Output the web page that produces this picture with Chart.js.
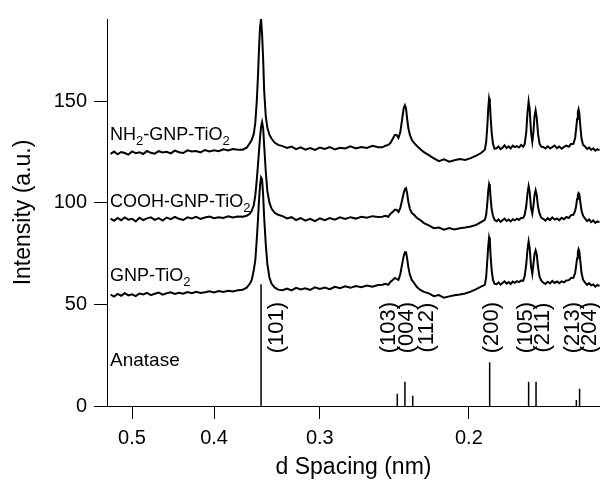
<!DOCTYPE html>
<html><head><meta charset="utf-8">
<script src="https://cdn.jsdelivr.net/npm/chart.js@4/dist/chart.umd.min.js"></script>
<style>html,body{margin:0;padding:0;background:#fff;}#wrap{width:600px;height:480px;}</style>
</head><body><div id="wrap"><canvas id="c" width="600" height="480"></canvas></div>
<script>
// d spacing (nm) of the sampled points
const dSpacing = [0.530,0.525,0.520,0.515,0.510,0.505,0.500,0.495,0.490,0.485,0.480,0.475,0.470,0.465,0.460,0.455,0.450,0.445,0.440,0.435,0.430,0.425,0.420,0.415,0.410,0.405,0.400,0.395,0.390,0.385,0.380,0.375,
0.370,0.366,0.363,0.361,0.359,0.3575,0.356,0.355,0.354,0.353,0.352,0.351,0.350,0.349,0.3475,0.346,0.344,0.342,0.339,0.336,
0.332,0.328,0.324,0.320,0.316,0.312,0.308,0.304,0.300,0.296,0.292,0.288,0.284,0.280,0.276,0.272,0.268,0.264,0.260,0.256,
0.253,0.251,0.249,0.2475,0.246,0.2447,0.2435,0.2422,0.241,0.2398,0.2388,0.2380,0.2373,0.2366,0.2358,0.2348,0.2336,0.2322,0.2305,0.2285,
0.226,0.223,0.220,0.217,0.214,0.211,0.208,0.205,0.202,0.199,0.196,0.1935,
0.1915,0.1908,0.1902,0.1897,0.1893,0.1889,0.1885,0.1880,0.1873,0.1865,
0.1855,0.1845,0.1835,0.1825,0.1815,0.1805,0.1795,0.1785,0.1775,0.1765,0.1755,0.1745,0.1735,
0.1725,0.1718,0.1711,0.1705,0.1700,0.1695,0.1689,0.1683,0.1678,0.1673,0.1668,0.1663,0.1657,0.1650,0.1642,
0.1634,0.1624,0.1614,0.1604,0.1594,0.1584,0.1574,0.1564,0.1554,0.1544,0.1534,0.1524,0.1515,
0.1505,0.1498,0.1494,0.1490,0.1487,0.1484,0.1481,0.1477,0.1472,0.1466,
0.1458,0.1450,0.1442,0.1434,0.1426,0.1418,0.1410,0.1402];

const nh2GnpTiO2 = [124.2,125.3,124.0,125.1,124.6,123.8,125.4,124.5,125.0,124.1,125.6,124.7,124.3,125.5,124.9,125.2,124.4,125.8,125.0,124.6,125.9,125.3,125.6,124.9,126.1,125.4,126.0,125.5,126.4,125.9,126.6,126.2,
126.2,127.2,129.4,131.1,134.0,139.8,151.0,162.0,175.2,186.4,190.8,183.0,171.0,155.0,142.7,137.0,133.5,131.6,129.6,128.6,
128.0,127.1,127.8,126.5,127.4,126.2,127.0,126.1,127.3,126.6,127.5,126.4,127.2,126.8,127.9,126.9,127.6,127.1,128.1,127.4,
127.4,128.2,128.6,129.6,131.6,133.5,133.5,132.0,134.9,141.3,146.6,148.1,146.6,141.7,136.9,133.5,131.1,129.6,128.2,126.7,
125.0,123.6,122.0,120.6,121.5,120.3,121.0,121.6,121.2,122.1,123.3,124.6,
126.2,130.1,137.9,147.1,151.5,149.5,142.2,134.9,129.1,126.7,
126.9,127.8,126.5,127.2,128.4,127.0,127.9,126.8,128.2,127.5,128.0,127.3,128.6,
127.7,129.1,134.9,144.7,150.0,146.1,134.9,130.1,134.9,142.7,145.6,142.2,134.0,129.1,127.7,
127.6,126.8,127.9,126.9,127.5,128.3,127.0,127.8,126.7,127.6,128.2,127.7,129.0,
129.1,132.0,136.4,141.3,144.7,146.1,144.2,137.9,131.6,128.6,
127.8,126.6,127.3,126.1,126.9,125.8,126.5,125.9];

const coohGnpTiO2 = [92.3,91.2,92.6,91.5,92.9,91.8,92.2,90.9,92.7,91.6,92.4,92.9,91.7,92.5,91.3,92.8,92.0,93.1,92.2,91.6,92.9,92.4,93.2,92.1,92.8,93.3,92.5,93.0,92.6,93.4,92.9,93.3,
93.2,93.7,94.7,96.1,99.0,103.9,112.1,118.4,125.2,132.0,137.4,139.8,136.9,128.2,115.5,105.8,100.0,97.1,95.1,94.2,
93.5,92.4,93.0,91.6,92.5,91.3,92.2,91.0,92.4,91.5,92.6,91.8,92.9,92.1,93.0,92.3,93.2,92.7,93.5,93.1,
93.2,93.7,93.2,94.7,95.6,96.6,96.6,95.6,97.6,101.5,104.9,106.8,107.3,104.9,100.5,97.1,95.1,94.2,92.7,91.7,
90.1,89.0,87.6,87.9,86.8,87.6,86.9,87.5,87.9,88.4,89.2,90.6,
91.7,94.2,100.0,106.3,109.2,107.8,102.4,97.1,93.7,91.7,
91.0,91.9,90.7,91.5,92.3,91.1,91.8,90.9,92.0,91.4,92.2,91.7,92.6,
92.7,94.2,98.5,104.9,108.3,105.3,97.6,94.7,98.5,103.9,106.3,103.9,98.1,94.7,92.7,
92.2,91.3,92.5,91.6,92.9,91.8,92.4,91.5,92.7,92.0,93.1,92.6,94.0,
94.2,96.1,98.5,101.9,103.9,104.9,104.4,100.5,96.1,93.7,
92.3,91.1,91.9,90.6,91.4,90.2,90.9,90.4];

const gnpTiO2 = [54.8,53.9,55.2,54.3,55.6,54.5,55.0,54.1,55.4,54.9,55.7,54.6,55.3,55.9,54.8,55.5,56.0,55.2,55.8,55.3,56.1,55.6,56.3,55.7,56.0,56.5,55.9,56.6,56.2,56.8,56.4,57.0,
57.3,58.3,60.2,62.1,67.0,71.8,83.0,91.3,101.0,108.3,112.6,111.7,103.9,92.7,79.6,69.9,63.1,60.2,58.3,57.3,
57.0,57.8,56.9,58.2,57.4,58.0,57.2,58.4,57.6,58.3,57.5,58.7,58.0,58.9,58.2,59.1,58.5,59.3,58.8,59.6,
59.7,60.2,59.7,61.2,62.1,63.1,62.6,62.1,65.0,69.9,73.8,75.7,75.7,72.8,68.4,64.6,62.1,60.7,58.7,57.3,
56.2,55.5,54.1,54.6,53.3,54.0,54.5,54.9,55.4,56.3,57.6,58.8,
59.7,63.6,71.8,79.1,83.0,81.1,73.8,67.0,62.1,60.2,
60.0,60.9,59.8,60.6,61.4,60.3,61.0,60.1,61.3,60.7,61.5,61.0,61.8,
61.7,64.1,69.9,77.2,81.1,77.7,68.9,65.0,69.9,74.8,76.7,74.8,68.4,63.6,61.7,
60.8,60.1,61.2,60.4,61.6,60.6,61.3,60.5,61.4,60.9,61.8,62.0,63.0,
63.1,65.5,68.9,72.8,75.7,77.2,76.2,71.4,65.5,62.1,
60.8,59.7,60.5,59.4,59.9,58.8,59.6,59.1];

// Anatase reference pattern
const anataseD = [0.352, 0.243, 0.238, 0.233, 0.189, 0.170, 0.1666, 0.1493, 0.1480];
const anataseI = [60, 6, 12, 5, 21.5, 12, 12, 3, 8.5];
const millerLabels = ['(101)','(103)','(004)','(112)','(200)','(105)','(211)','(213)','(204)'];
const millerLabelD = [0.3368, 0.2486, 0.2367, 0.2242, 0.1878, 0.1712, 0.1635, 0.1507, 0.1439];
const millerLabelY = 38.6;

const xTicks = [0.5, 0.4, 0.3, 0.2];
const xTickLabels = ['0.5', '0.4', '0.3', '0.2'];
const yTicks = [0, 50, 100, 150];

const seriesLabelParts = [
  [['NH',0],['2',1],['-GNP-TiO',0],['2',1]],
  [['COOH-GNP-TiO',0],['2',1]],
  [['GNP-TiO',0],['2',1]],
  [['Anatase',0]]
];
const seriesLabelY = [131, 98, 61.7, 19.9];
const seriesLabelSize = [18, 18, 18, 19];

const FONT = '"Liberation Sans", Arial, Helvetica, sans-serif';

function toXY(vals){ return dSpacing.map((d,i)=>({x:d, y:vals[i]})); }
const sticks = [];
anataseD.forEach((d,i)=>{ sticks.push({x:d,y:0},{x:d,y:anataseI[i]},{x:d,y:null}); });

const annot = {
  id:'annot',
  afterDatasetsDraw(chart){
    const {ctx, chartArea} = chart; const x = chart.scales.x, y = chart.scales.y;
    ctx.save();
    ctx.fillStyle = '#000';
    ctx.textAlign = 'left'; ctx.textBaseline = 'alphabetic';
    seriesLabelParts.forEach((parts,i)=>{
      let px = chartArea.left + 3;
      const py = y.getPixelForValue(seriesLabelY[i]);
      const sz = seriesLabelSize[i];
      parts.forEach(([t,sub])=>{
        ctx.font = (sub ? Math.round(sz*0.7) : sz) + 'px ' + FONT;
        ctx.fillText(t, px, py + (sub ? 5 : 0));
        px += ctx.measureText(t).width;
      });
    });
    ctx.font = '22px ' + FONT;
    ctx.textAlign = 'center'; ctx.textBaseline = 'middle';
    const py = y.getPixelForValue(millerLabelY);
    millerLabels.forEach((t,i)=>{
      const px = x.getPixelForValue(millerLabelD[i]);
      ctx.save(); ctx.translate(px, py); ctx.rotate(-Math.PI/2); ctx.fillText(t,0,0); ctx.restore();
    });
    ctx.restore();
  }
};

const lineDs = (label, data) => ({label, data, borderColor:'#000', borderWidth:2, pointRadius:0, tension:0, fill:false, spanGaps:false});

new Chart(document.getElementById('c'), {
  type:'line',
  data:{ datasets:[
    lineDs('NH2-GNP-TiO2', toXY(nh2GnpTiO2)),
    lineDs('COOH-GNP-TiO2', toXY(coohGnpTiO2)),
    lineDs('GNP-TiO2', toXY(gnpTiO2)),
    Object.assign(lineDs('Anatase', sticks), {borderWidth:1.5})
  ]},
  options:{
    responsive:false, animation:false, devicePixelRatio:1,
    layout:{padding:{top:13,right:0,left:0,bottom:0}},
    plugins:{legend:{display:false}, tooltip:{enabled:false}},
    scales:{
      x:{
        type:'logarithmic', reverse:true, min:0.140, max:0.5352, position:'bottom',
        afterBuildTicks: s => { s.ticks = xTicks.map(v=>({value:v})); },
        afterFit: s => { s.height = 74; },
        ticks:{ autoSkip:false, maxRotation:0, color:'#000', padding:7,
          font:{family:FONT, size:20},
          callback:(v,i)=>xTickLabels[i] },
        grid:{ drawOnChartArea:false, drawTicks:true, tickLength:13, color:'#000', lineWidth:1 },
        border:{ display:true, color:'#000', width:1 },
        title:{ display:true, text:'d Spacing (nm)', color:'#000', font:{family:FONT, size:23}, padding:{top:0,bottom:-1} }
      },
      y:{
        type:'linear', min:0, max:190.6,
        afterBuildTicks: s => { s.ticks = yTicks.map(v=>({value:v})); },
        afterFit: s => { s.width = 107; },
        ticks:{ color:'#000', padding:7, font:{family:FONT, size:20} },
        grid:{ drawOnChartArea:false, drawTicks:true, tickLength:13, color:'#000', lineWidth:1 },
        border:{ display:true, color:'#000', width:1 },
        title:{ display:true, text:'Intensity (a.u.)', color:'#000', font:{family:FONT, size:23}, padding:{top:10,bottom:0} }
      }
    }
  },
  plugins:[annot]
});
</script></body></html>
